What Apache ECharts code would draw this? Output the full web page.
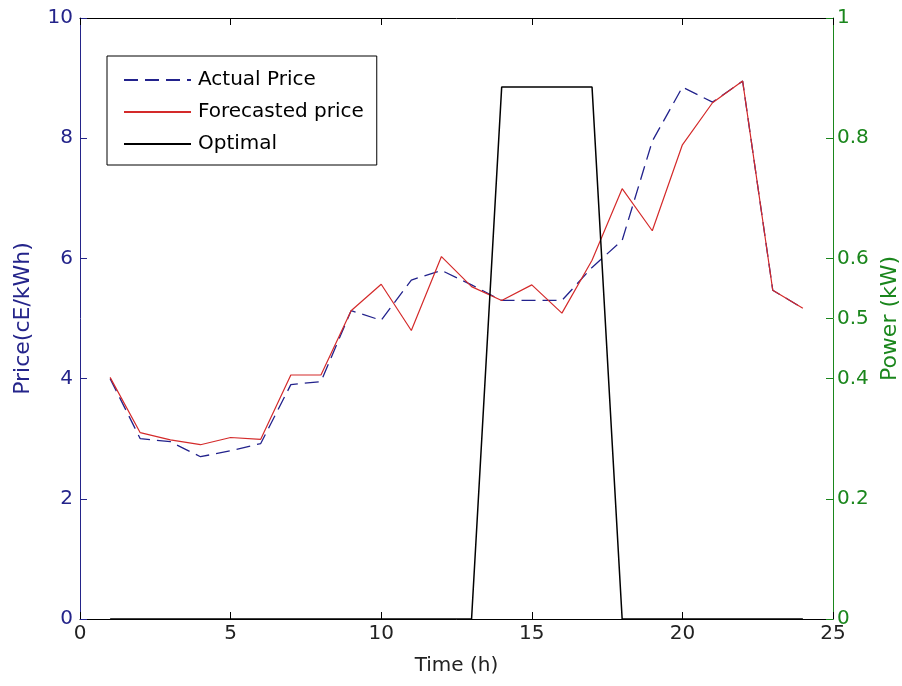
<!DOCTYPE html>
<html>
<head>
<meta charset="utf-8">
<script src="https://cdn.jsdelivr.net/npm/echarts@6/dist/echarts.min.js"></script>
<style>
  html, body { margin: 0; padding: 0; background: #fff; }
  #main { width: 902px; height: 686px; }
</style>
</head>
<body>
<div id="main"></div>
<script>
// hours 1..24
const hours = [1, 2, 3, 4, 5, 6, 7, 8, 9, 10, 11, 12, 13, 14, 15, 16, 17, 18, 19, 20, 21, 22, 23, 24];
const actualPrice = [4.0, 3.0, 2.95, 2.7, 2.8, 2.92, 3.9, 3.95, 5.13, 4.97, 5.64, 5.8, 5.56, 5.3, 5.3, 5.3, 5.85, 6.3, 7.95, 8.85, 8.6, 8.95, 5.47, 5.17];
const forecastPrice = [4.02, 3.1, 2.98, 2.9, 3.02, 2.99, 4.06, 4.06, 5.13, 5.57, 4.8, 6.03, 5.53, 5.3, 5.56, 5.09, 5.97, 7.16, 6.46, 7.89, 8.59, 8.95, 5.47, 5.17];
const optimalPower = [0, 0, 0, 0, 0, 0, 0, 0, 0, 0, 0, 0, 0, 0.885, 0.885, 0.885, 0.885, 0, 0, 0, 0, 0, 0, 0];
const powerTicks = [0, 0.2, 0.4, 0.5, 0.6, 0.8, 1];

const pair = (vals) => hours.map((h, i) => [h, vals[i]]);

const navy = '#24248a', green = '#1a861c';
const font = 'DejaVu Sans, sans-serif';

let myChart = echarts.init(document.getElementById('main'), null, { renderer: 'canvas' });
myChart.setOption({
    animation: false,
    grid: { left: 80, right: 69, top: 18, bottom: 67, outerBoundsMode: 'none', containLabel: false },
    legend: {
        orient: 'vertical',
        left: 107, top: 56,
        itemWidth: 67, itemHeight: 20, itemGap: 12,
        padding: [14, 13, 11, 16],
        borderColor: '#000', borderWidth: 1,
        backgroundColor: '#fff',
        itemStyle: { opacity: 0 },
        textStyle: { fontFamily: font, fontSize: 20, lineHeight: 20, color: '#000', padding: [0, 0, 0, 2] },
        data: ['Actual Price', 'Forecasted price', 'Optimal']
    },
    xAxis: [{
        type: 'value', min: 0, max: 25, interval: 5, position: 'bottom',
        name: 'Time (h)', nameLocation: 'middle', nameGap: 37,
        nameTextStyle: { fontFamily: font, fontSize: 20, color: '#222' },
        axisLine: { onZero: false, lineStyle: { color: '#000' } },
        axisTick: { inside: true, length: 7, lineStyle: { color: '#000' } },
        axisLabel: { fontFamily: font, fontSize: 20, color: '#222', margin: 5 },
        splitLine: { show: false }
    }, {
        type: 'value', min: 0, max: 25, interval: 5, position: 'top',
        axisLine: { onZero: false, lineStyle: { color: '#000' } },
        axisTick: { inside: true, length: 7, lineStyle: { color: '#000' } },
        axisLabel: { show: false },
        splitLine: { show: false }
    }],
    yAxis: [{
        type: 'value', min: 0, max: 10, interval: 2, position: 'left',
        name: 'Price(cE/kWh)', nameLocation: 'middle', nameGap: 46,
        nameTextStyle: { fontFamily: font, fontSize: 22, color: navy },
        axisLine: { show: true, onZero: false, lineStyle: { color: navy } },
        axisTick: { show: true, inside: true, length: 7, lineStyle: { color: navy } },
        axisLabel: { fontFamily: font, fontSize: 20, color: navy, margin: 7 },
        splitLine: { show: false }
    }, {
        type: 'value', min: 0, max: 1, position: 'right',
        name: 'Power (kW)', nameLocation: 'middle', nameGap: 39,
        nameTextStyle: { fontFamily: font, fontSize: 22, color: green },
        axisLine: { show: true, onZero: false, lineStyle: { color: green } },
        axisTick: { show: true, inside: true, length: 7, customValues: powerTicks, lineStyle: { color: green } },
        axisLabel: { fontFamily: font, fontSize: 20, color: green, margin: 4, customValues: powerTicks },
        splitLine: { show: false }
    }],
    series: [{
        name: 'Actual Price', type: 'line', symbol: 'none',
        data: pair(actualPrice),
        lineStyle: { color: '#22228c', width: 1.3, type: [14, 7] },
        itemStyle: { color: '#22228c' }
    }, {
        name: 'Forecasted price', type: 'line', symbol: 'none',
        data: pair(forecastPrice),
        lineStyle: { color: '#d42a2a', width: 1.2 },
        itemStyle: { color: '#d42a2a' }
    }, {
        name: 'Optimal', type: 'line', symbol: 'none', yAxisIndex: 1,
        data: pair(optimalPower),
        lineStyle: { color: '#000', width: 1.5 },
        itemStyle: { color: '#000' }
    }]
});
</script>
</body>
</html>
